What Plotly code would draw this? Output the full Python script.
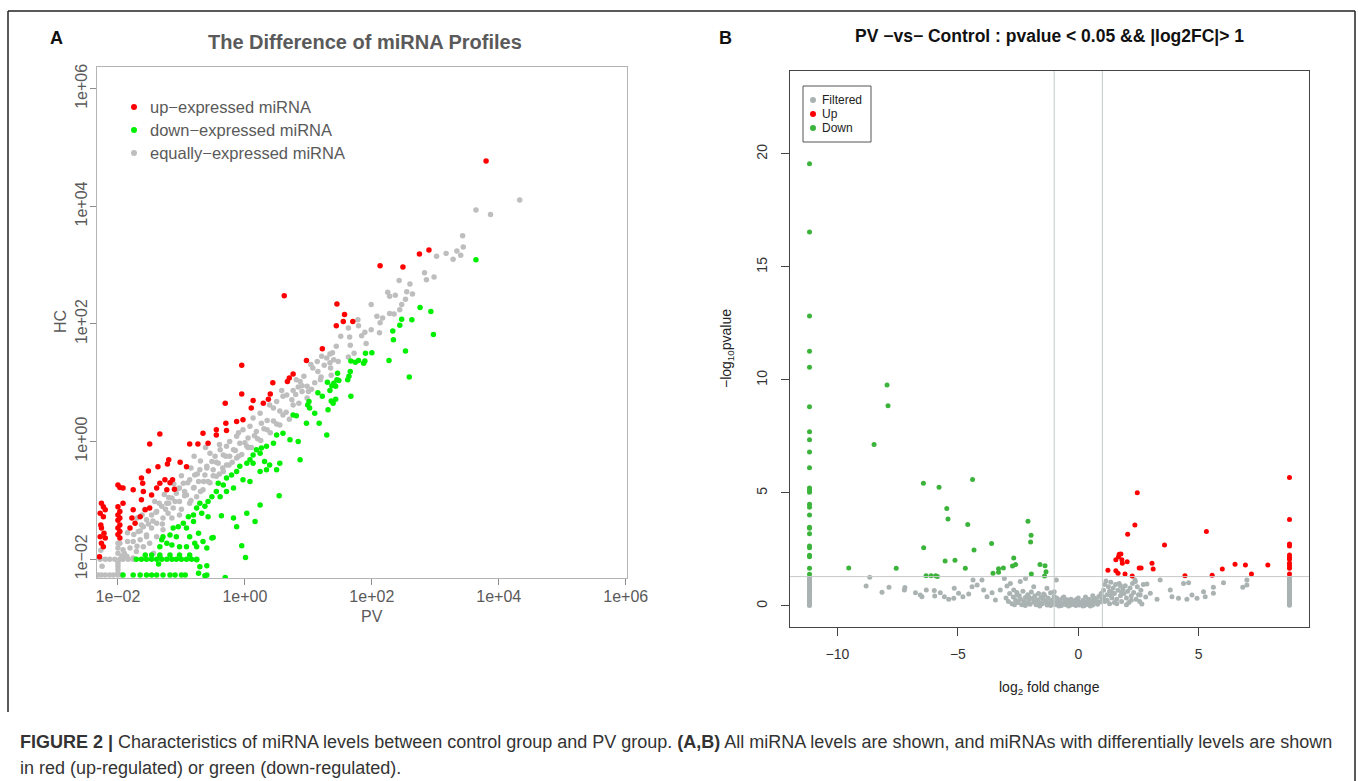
import numpy as np
import plotly.graph_objects as go

W, H = 1358, 781

# ---------------- Panel A data: (log10 PV, log10 HC) ----------------
up_points = [
    (3.80, 4.77), (0.62, 2.48), (2.90, 3.26), (2.75, 3.19), (2.13, 2.99), (2.49, 2.97),
    (1.45, 2.34), (1.57, 2.16), (1.44, 1.97), (1.55, 2.04), (1.70, 2.04), (1.22, 1.58),
    (0.97, 1.38), (0.76, 1.15), (0.70, 1.08), (0.67, 1.02), (0.44, 1.00), (-0.05, 1.30),
    (-0.05, 0.81), (0.40, 0.81), (0.37, 0.72), (0.29, 0.65), (0.13, 0.70), (0.10, 0.57),
    (-0.31, 0.65), (-1.34, 0.13), (-1.50, -0.04), (-0.66, 0.14), (-0.45, 0.20), (-0.29, 0.19),
    (-0.45, 0.11), (-0.30, 0.31), (-0.13, 0.34), (-0.03, 0.37), (-0.87, -0.04), (-0.74, -0.04),
    (-0.58, -0.03), (-1.02, -0.35), (-0.92, -0.43), (-1.20, -0.31), (-1.37, -0.43), (-1.52, -0.50),
    (-1.22, -0.38), (-1.14, -0.65), (-1.18, -0.70), (-1.26, -0.65), (-1.34, -0.71), (-1.39, -0.79),
    (-1.11, -0.81), (-1.23, -0.82), (-1.47, -0.91), (-1.63, -0.62), (-1.61, -0.71), (-1.60, -0.85),
    (-1.76, -0.82), (-1.92, -0.79), (-2.00, -0.74), (-1.97, -0.78), (-1.92, -1.05), (-1.76, -1.16),
    (-1.78, -1.30), (-1.73, -1.39), (-1.81, -1.47), (-1.65, -1.28), (-1.57, -1.16), (-1.50, -1.13),
    (-1.63, -0.99),
    (-2.00, -1.11), (-1.97, -1.19), (-2.00, -1.25), (-1.97, -1.30), (-2.00, -1.34), (-1.97, -1.42),
    (-2.00, -1.47), (-1.97, -1.53), (-2.00, -1.58), (-1.97, -1.64),
    (-2.26, -1.05), (-2.23, -1.11), (-2.20, -1.16), (-2.28, -1.22), (-2.23, -1.28), (-2.27, -1.42),
    (-2.26, -1.47), (-2.22, -1.56), (-2.28, -1.62), (-2.20, -1.64), (-2.26, -1.73), (-2.23, -1.79),
    (-2.29, -1.96),
]

down_points = [
    (3.64, 3.09), (2.76, 2.28), (2.93, 2.21), (2.63, 2.07), (2.47, 2.08), (2.44, 1.98),
    (2.33, 1.88), (2.97, 1.82), (2.34, 1.73), (2.53, 1.54), (2.00, 1.51), (1.90, 1.50),
    (2.27, 1.38), (2.59, 1.10), (1.89, 1.37), (1.87, 1.33), (1.79, 1.38), (1.74, 1.35),
    (1.67, 1.37), (1.66, 1.19), (1.64, 1.11), (1.62, 1.05), (1.67, 0.77), (1.46, 1.16),
    (1.45, 1.05), (1.48, 1.04), (1.40, 0.99), (1.37, 0.95), (1.43, 0.94), (1.30, 1.01),
    (1.34, 0.87), (1.43, 0.72), (1.36, 0.69), (1.39, 0.65), (1.22, 0.77), (1.15, 0.83),
    (1.01, 0.68), (0.99, 0.62), (1.02, 0.57),
    (0.76, 0.45), (0.81, 0.44), (0.97, 0.31), (1.17, 0.31), (1.10, 0.48), (1.31, 0.54),
    (1.29, 0.11), (0.87, -0.31), (0.84, 0.00), (0.71, 0.03), (0.60, 0.14), (0.50, 0.11),
    (0.45, -0.03), (0.34, -0.08), (0.26, -0.11), (0.18, -0.14), (0.13, -0.23), (0.24, -0.20),
    (0.08, -0.31), (0.03, -0.37), (0.13, -0.37), (0.31, -0.34), (0.39, -0.40), (0.55, -0.37),
    (0.50, -0.48), (0.24, -0.51), (0.34, -0.48), (-0.08, -0.42), (-0.13, -0.51), (-0.21, -0.57),
    (-0.03, -0.65), (0.08, -0.68), (-0.29, -0.62), (-0.34, -0.74), (-0.42, -0.71), (-0.18, -0.79),
    (-0.29, -0.85), (-0.45, -0.85), (-0.52, -0.94), (-0.39, -0.94), (-0.58, -1.02), (-0.71, -1.05),
    (-0.63, -1.10), (-0.76, -1.13), (-0.68, -1.22), (-0.58, -1.28), (-0.81, -1.25), (-0.89, -1.28),
    (-0.81, -1.36), (-0.97, -1.39), (-1.05, -1.45), (-1.13, -1.47), (-0.92, -1.47), (-1.18, -1.59),
    (-1.29, -1.62), (-1.08, -1.62), (-0.87, -1.62), (-0.73, -1.56), (-0.52, -1.64), (-0.50, -1.63),
    (-0.37, -1.26), (-0.18, -1.30), (-0.13, -1.45), (0.03, -1.22), (0.16, -1.36), (-0.05, -1.77),
    (0.01, -1.97), (0.24, -1.08), (0.54, -0.92), (-0.66, -1.70), (-0.60, -1.81), (-0.76, -1.79),
    (-0.79, -1.73), (-0.92, -1.79), (-1.03, -1.79), (-1.15, -1.76), (-1.23, -1.73), (-1.34, -1.79),
    (-1.31, -1.67),
    (-1.71, -2.0), (-1.63, -2.0), (-1.55, -2.0), (-1.47, -2.0), (-1.39, -2.0), (-1.31, -2.0),
    (-1.23, -2.0), (-1.15, -2.0), (-1.08, -2.0), (-1.00, -2.0), (-0.92, -2.0), (-0.84, -2.0),
    (-0.76, -2.0),
    (-1.57, -1.93), (-1.47, -1.93), (-1.34, -1.93), (-1.18, -1.93), (-1.03, -1.93), (-0.87, -1.93),
    (-1.36, -2.08), (-0.76, -2.01), (-0.71, -2.13), (-0.60, -2.11),
    (-1.92, -2.27), (-1.76, -2.27), (-1.65, -2.27), (-1.55, -2.27), (-1.47, -2.27), (-1.39, -2.27),
    (-1.29, -2.27), (-1.18, -2.27), (-1.10, -2.27), (-1.00, -2.27), (-0.94, -2.27), (-0.60, -2.27),
    (-0.31, -2.31), (-0.73, -2.24), (-0.63, -2.28),
]

equal_points = [
    (4.33, 4.11), (3.64, 3.94), (3.87, 3.86), (3.43, 3.50), (3.44, 3.31), (3.34, 3.24),
    (3.40, 3.17), (3.28, 3.10), (3.17, 3.20), (3.02, 3.15), (2.83, 2.87), (2.98, 2.80),
    (2.86, 2.75), (2.60, 2.68), (2.43, 2.74), (2.55, 2.55), (2.64, 2.51), (2.25, 2.54),
    (2.37, 2.49), (2.28, 2.47), (2.53, 2.42), (2.47, 2.33), (2.44, 2.24), (2.28, 2.18),
    (2.35, 2.17), (1.99, 2.33), (2.08, 2.13), (2.17, 2.10), (2.13, 2.02), (1.78, 2.07),
    (1.79, 1.97), (1.89, 1.86), (1.99, 1.90), (2.12, 1.85), (1.84, 1.80), (1.63, 1.93),
    (1.65, 1.78), (1.51, 1.79), (1.91, 1.67), (1.44, 1.62), (1.66, 1.64), (1.72, 1.50),
    (1.63, 1.44), (1.38, 1.51), (1.34, 1.49), (1.40, 1.39), (1.29, 1.42), (1.34, 1.34),
    (1.47, 1.36), (1.35, 1.25), (1.21, 1.45), (1.14, 1.36), (1.07, 1.25), (1.15, 1.19),
    (1.04, 1.31), (1.36, 1.13), (1.19, 1.05), (0.93, 1.11), (0.98, 0.94), (1.05, 0.89),
    (0.87, 1.02), (0.81, 1.05), (0.84, 0.93), (0.90, 0.85), (0.76, 0.87), (0.66, 0.79),
    (0.58, 0.87), (0.60, 0.77), (0.74, 0.71), (0.50, 0.68), (0.39, 0.62), (0.98, 0.74),
    (0.76, 0.62), (0.45, 0.57),
    (0.24, 0.48), (0.13, 0.40), (0.26, 0.31), (0.08, 0.26), (-0.03, 0.20), (0.18, 0.17),
    (-0.13, 0.09), (0.05, 0.06), (-0.24, 0.00), (-0.08, -0.03), (-0.29, -0.08), (-0.18, -0.14),
    (0.03, -0.08), (-0.39, -0.14), (-0.34, -0.23), (-0.47, -0.25), (-0.24, -0.25), (-0.13, -0.28),
    (-0.52, -0.34), (-0.42, -0.37), (-0.29, -0.40), (-0.60, -0.42), (-0.71, -0.48), (-0.50, -0.48),
    (-0.34, -0.51), (-0.79, -0.57), (-0.63, -0.57), (-0.45, -0.59), (-0.87, -0.65), (-0.73, -0.68),
    (-0.58, -0.68), (-0.97, -0.71), (-1.03, -0.79), (-0.81, -0.79), (-0.66, -0.82), (-1.08, -0.88),
    (-0.92, -0.91), (-0.76, -0.94), (-1.15, -0.96), (-1.03, -1.02), (-1.23, -1.05), (-0.87, -1.05),
    (-1.31, -1.10), (-1.13, -1.13), (-1.39, -1.19), (-1.21, -1.22), (-1.03, -1.25), (-1.47, -1.25),
    (-1.29, -1.30), (-1.55, -1.33), (-1.39, -1.39), (-1.63, -1.42), (-1.47, -1.47), (-1.29, -1.50),
    (-1.68, -1.53), (-1.55, -1.59), (-1.39, -1.62), (-1.65, -1.67), (-1.50, -1.73), (-1.76, -1.70),
    (-1.60, -1.79), (-1.81, -1.81), (-1.71, -1.87), (-1.44, -1.90), (-1.86, -1.95), (-1.76, -1.98),
    (-1.34, -1.95), (-1.92, -1.84), (-1.97, -1.73), (-1.94, -1.95),
    (-0.40, -0.05), (-0.55, -0.20), (-0.70, -0.33), (-0.85, -0.45), (-1.00, -0.58), (-1.12, -0.72),
    (-1.27, -0.90), (-1.42, -1.02), (-1.58, -1.15), (-1.70, -1.30), (-1.85, -1.55), (0.35, 0.36),
    (0.55, 0.52), (-0.10, 0.15), (-0.95, -0.85), (-1.20, -1.05), (-0.62, -0.10), (-0.80, -0.25),
    (-1.45, -1.35), (-1.40, -1.20), (-1.35, -1.05), (-1.30, -1.40), (-1.25, -1.15), (-1.20, -0.95),
    (-1.15, -1.30), (-1.10, -1.02), (-1.05, -0.80), (-1.00, -1.15), (-0.95, -0.92), (-0.90, -0.70),
    (-0.85, -1.00), (-0.80, -0.78), (-0.75, -0.55), (-0.70, -0.85), (-0.65, -0.68), (-0.60, -0.45),
    (-0.55, -0.70), (-0.50, -0.58), (-0.45, -0.35), (-0.40, -0.55), (-0.35, -0.45), (-0.30, -0.25),
    (-0.25, -0.40), (-0.20, -0.35), (-0.15, -0.15), (-0.10, -0.25), (-0.05, -0.22), (0.00, -0.02),
    (0.05, -0.10), (0.10, -0.10), (0.15, 0.10), (0.20, 0.05), (0.25, 0.02), (0.30, 0.22),
    (0.35, 0.20), (0.40, 0.15), (0.45, 0.35), (0.50, 0.30), (0.55, 0.28), (0.60, 0.45),
    (0.65, 0.50), (0.70, 0.38), (0.80, 0.80), (0.85, 0.65), (0.90, 0.95), (1.00, 0.85),
    (1.10, 1.00), (1.20, 1.10), (1.25, 1.30), (-1.60, -1.45), (-1.55, -1.62), (-1.75, -1.58),
    (-1.85, -1.70), (-1.90, -1.90), (-1.70, -1.78), (-1.65, -1.52), (-1.52, -1.40), (-1.62, -1.25),
    (-2.28, -2.0), (-2.20, -2.0), (-2.13, -2.0), (-2.05, -2.0), (-1.97, -2.0), (-1.92, -2.0),
    (-1.84, -2.0), (-1.76, -2.0),
    (-2.31, -2.27), (-2.26, -2.27), (-2.20, -2.27), (-2.13, -2.27), (-2.07, -2.27), (-2.00, -2.27),
    (-1.94, -2.27),
    (-2.00, -1.73), (-2.00, -1.81), (-2.00, -1.90), (-2.00, -2.07), (-2.00, -2.12), (-2.00, -2.18),
    (-2.00, -2.24), (-2.27, -1.85), (-2.25, -2.12),
]

a_tick_vals = [1e-2, 1e0, 1e2, 1e4, 1e6]
a_tick_text = ["1e\u221202", "1e+00", "1e+02", "1e+04", "1e+06"]
a_legend_labels = ["up\u2212expressed miRNA", "down\u2212expressed miRNA", "equally\u2212expressed miRNA"]

# ---------------- Panel B data: (log2 fold change, -log10 pvalue) ----------------
b_down_points = [(-11.16, v) for v in [19.57, 16.55, 12.83, 11.27, 10.56, 8.82, 7.71, 7.36, 6.81, 6.12,
                                        5.22, 5.13, 5.03, 4.50, 4.37, 4.03, 3.48, 3.44, 3.20, 2.65,
                                        2.58, 2.24, 2.18, 1.67, 1.40]] + [
    (-7.94, 9.78), (-7.90, 8.86), (-8.48, 7.14), (-9.53, 1.68), (-7.56, 1.67), (-6.43, 5.43),
    (-5.78, 5.25), (-4.39, 5.60), (-5.46, 4.31), (-5.41, 3.85), (-4.59, 3.61), (-6.42, 2.58),
    (-4.33, 2.48), (-3.60, 2.76), (-5.53, 1.99), (-5.12, 2.02), (-4.69, 1.67), (-6.32, 1.34),
    (-6.11, 1.34), (-5.92, 1.34), (-5.85, 1.30), (-3.54, 1.45), (-3.31, 1.49), (-3.31, 1.65),
    (-3.11, 1.68), (-2.68, 2.12), (-2.73, 1.77), (-2.60, 1.83), (-2.09, 3.75), (-1.96, 3.13),
    (-1.98, 2.83), (-1.59, 1.84), (-1.38, 1.78), (-1.34, 1.52), (-1.40, 1.33), (-1.95, 1.42),
]

b_up_points = [(8.77, v) for v in [5.69, 3.83, 2.74, 2.65, 2.26, 2.15, 2.07, 1.89, 1.78, 1.67, 1.42]] + [
    (2.45, 5.01), (2.35, 3.58), (2.05, 3.17), (5.32, 3.29), (3.58, 2.70), (1.70, 2.29),
    (1.77, 2.30), (1.67, 2.18), (1.81, 2.04), (1.56, 2.04), (1.83, 1.89), (2.03, 1.96),
    (1.23, 1.58), (1.56, 1.56), (1.65, 1.45), (1.94, 1.42), (2.24, 1.33), (2.53, 1.68),
    (2.61, 1.68), (3.06, 1.89), (3.11, 1.64), (4.43, 1.34), (5.56, 1.36), (5.98, 1.64),
    (6.51, 1.85), (6.94, 1.81), (7.19, 1.42), (7.87, 1.81),
]

b_filtered_points = (
    [(-11.16, v) for v in [0.02, 0.07, 0.13, 0.20, 0.26, 0.33, 0.40, 0.46, 0.53, 0.60,
                           0.67, 0.74, 0.80, 0.87, 0.94, 1.00, 1.07, 1.14, 1.20, 1.26]]
    + [(8.77, v) for v in [0.03, 0.09, 0.15, 0.22, 0.29, 0.36, 0.43, 0.50, 0.57, 0.64,
                           0.71, 0.78, 0.85, 0.92, 0.99, 1.06, 1.13, 1.20, 1.27]]
    + [
    (-8.66, 1.27), (-8.81, 0.88), (-8.15, 0.61), (-7.86, 0.83), (-7.22, 0.71), (-7.20, 0.82),
    (-6.76, 0.59), (-6.56, 0.49), (-6.31, 0.71), (-6.49, 0.41), (-5.98, 0.68), (-5.96, 0.44),
    (-5.73, 0.59), (-5.56, 0.41), (-5.38, 0.30), (-5.17, 0.34), (-5.15, 0.78), (-4.97, 0.56),
    (-4.79, 0.41), (-4.55, 0.53), (-4.37, 1.15), (-4.41, 0.85), (-4.20, 0.93), (-4.00, 1.15),
    (-3.93, 0.71), (-3.79, 0.41), (-3.58, 0.59), (-3.44, 0.27), (-3.24, 0.71), (-3.07, 1.22),
    (-2.96, 0.88), (-2.82, 1.00), (-2.68, 0.71), (-2.54, 0.49), (-2.41, 1.08), (-2.19, 1.22),
    (-2.06, 0.41), (-1.85, 0.85), (-1.71, 0.27), (-1.44, 0.53), (-1.30, 0.78), (-1.00, 0.63),
    (-0.91, 1.15),
    (-3.00, 0.35), (-2.90, 0.20), (-2.85, 0.55), (-2.75, 0.10), (-2.70, 0.40), (-2.60, 0.25),
    (-2.55, 0.60), (-2.50, 0.15), (-2.45, 0.45), (-2.40, 0.30), (-2.35, 0.05), (-2.30, 0.65),
    (-2.25, 0.20), (-2.20, 0.38), (-2.15, 0.12), (-2.10, 0.50), (-2.05, 0.28), (-2.00, 0.08),
    (-1.95, 0.62), (-1.90, 0.33), (-1.85, 0.18), (-1.80, 0.45), (-1.75, 0.05), (-1.70, 0.25),
    (-1.65, 0.55), (-1.60, 0.15), (-1.55, 0.38), (-1.50, 0.10), (-1.45, 0.30), (-1.40, 0.48),
    (-1.35, 0.20), (-1.30, 0.04), (-1.25, 0.35), (-1.20, 0.15), (-1.15, 0.58), (-1.10, 0.25),
    (-1.05, 0.08), (-1.00, 0.42),
    (-0.95, 0.18), (-0.90, 0.05), (-0.85, 0.30), (-0.80, 0.12), (-0.75, 0.22), (-0.70, 0.02),
    (-0.65, 0.35), (-0.60, 0.10), (-0.55, 0.20), (-0.50, 0.05), (-0.45, 0.28), (-0.40, 0.15),
    (-0.35, 0.03), (-0.30, 0.12), (-0.25, 0.22), (-0.20, 0.06), (-0.15, 0.16), (-0.10, 0.02),
    (-0.05, 0.10), (0.00, 0.20), (0.05, 0.04), (0.10, 0.14), (0.15, 0.08), (0.20, 0.25),
    (0.25, 0.02), (0.30, 0.12), (0.35, 0.18), (0.40, 0.06), (0.45, 0.30), (0.50, 0.10),
    (0.55, 0.20), (0.60, 0.04), (0.65, 0.35), (0.70, 0.15), (0.75, 0.25), (0.80, 0.08),
    (0.85, 0.42), (0.90, 0.18), (0.95, 0.55), (1.00, 0.30),
    (-0.90, 0.35), (-0.60, 0.40), (-0.30, 0.30), (0.00, 0.35), (0.30, 0.40), (0.60, 0.45),
    (-0.80, 0.00), (-0.40, 0.00), (0.20, 0.00), (0.50, 0.00), (-0.10, 0.28), (0.40, 0.22),
    (-0.55, 0.12), (0.70, 0.30), (-2.65, 0.05), (-2.20, 0.02), (-1.60, 0.00), (-1.15, 0.02),
    (1.05, 0.70), (1.10, 0.95), (1.10, 0.20), (1.15, 1.10), (1.20, 0.50), (1.25, 0.85),
    (1.30, 0.10), (1.30, 0.65), (1.35, 1.05), (1.40, 0.35), (1.45, 0.80), (1.50, 0.15),
    (1.50, 0.55), (1.55, 0.95), (1.60, 0.30), (1.65, 0.70), (1.70, 1.00), (1.75, 0.45),
    (1.80, 0.20), (1.85, 0.75), (1.90, 0.55), (1.95, 0.90), (2.00, 0.35), (2.05, 0.65),
    (2.10, 0.15), (2.15, 0.80), (2.20, 0.45), (2.25, 1.00), (2.30, 0.60), (2.40, 0.30),
    (2.45, 0.85), (2.50, 0.50), (2.55, 0.20), (2.60, 0.70), (2.70, 0.95), (2.80, 0.40),
    (1.20, 0.25), (1.40, 0.60), (1.60, 0.10), (1.80, 0.60), (2.00, 0.05), (2.20, 0.25),
    (1.05, 0.40), (1.35, 0.45), (1.75, 0.90), (2.35, 1.15),
    (3.40, 1.15), (3.27, 0.30), (3.82, 0.71), (3.89, 0.41), (4.16, 0.34), (4.37, 1.00),
    (4.58, 1.03), (4.51, 0.30), (4.72, 0.49), (4.93, 0.34), (5.20, 0.63), (5.27, 0.41),
    (5.61, 0.83), (5.61, 0.56), (6.03, 1.03), (7.00, 1.15), (7.00, 0.93), (6.83, 0.83),
    (2.64, 0.09), (2.99, 0.56), (2.85, 0.97), (2.37, 1.08), (2.57, 0.49),
])

b_tick_x = [-10, -5, 0, 5]
b_tick_x_text = ["\u221210", "\u22125", "0", "5"]
b_tick_y = [0, 5, 10, 15, 20]
b_legend_labels = ["Filtered", "Up", "Down"]
fc_cut = 1.0
p_cut = -np.log10(0.05)

# ---------------- colours / geometry ----------------
A_GRAY, A_RED, A_GREEN = "#bebebe", "#ff0000", "#00f000"
B_GRAY, B_RED, B_GREEN = "#aab2b2", "#ff0000", "#3cb43c"

def px(x):
    return x / W

def py(y):
    return 1 - y / H

A_box = (97, 67, 627, 578)     # left, top, right, bottom (pixels)
B_box = (790, 71, 1309, 627)

fig = go.Figure()

def add_a(points, color):
    xs = [10 ** p[0] for p in points]
    ys = [10 ** p[1] for p in points]
    fig.add_trace(go.Scatter(x=xs, y=ys, mode="markers", xaxis="x", yaxis="y",
                             marker=dict(size=5.5, color=color, line=dict(width=0)),
                             showlegend=False, hoverinfo="skip"))

def add_b(points, color):
    fig.add_trace(go.Scatter(x=[p[0] for p in points], y=[p[1] for p in points], mode="markers",
                             xaxis="x2", yaxis="y2",
                             marker=dict(size=5, color=color, line=dict(width=0)),
                             showlegend=False, hoverinfo="skip"))

add_a(equal_points, A_GRAY)
add_a(down_points, A_GREEN)
add_a(up_points, A_RED)

add_b(b_filtered_points, B_GRAY)
add_b(b_up_points, B_RED)
add_b(b_down_points, B_GREEN)

FONT = "Liberation Sans, Arial, Helvetica, sans-serif"

axA = dict(showgrid=False, zeroline=False, showline=True, mirror=True, linecolor="#b4b4b4",
           linewidth=1, ticks="outside", ticklen=6, tickcolor="#8c8c8c", tickwidth=1,
           tickfont=dict(family=FONT, size=16, color="#5a5a5a"), automargin=False)
axB = dict(showgrid=False, zeroline=False, showline=True, mirror=True, linecolor="#444444",
           linewidth=1.2, ticks="outside", ticklen=8, tickcolor="#444444", tickwidth=1,
           tickfont=dict(family=FONT, size=14, color="#333333"), automargin=False)

fig.update_layout(
    width=W, height=H, autosize=False,
    margin=dict(l=0, r=0, t=0, b=0, pad=0, autoexpand=False),
    paper_bgcolor="white", plot_bgcolor="white", showlegend=False,
    xaxis=dict(axA, type="log", range=[-2.33, 6.02], domain=[px(A_box[0]), px(A_box[2])],
               anchor="y", tickvals=a_tick_vals, ticktext=a_tick_text, ticklabelstandoff=-2),
    yaxis=dict(axA, type="log", range=[-2.32, 6.37], domain=[py(A_box[3]), py(A_box[1])],
               anchor="x", tickvals=a_tick_vals, ticktext=a_tick_text, tickangle=-90,
               ticklabelstandoff=-3),
    xaxis2=dict(axB, range=[-11.97, 9.58], domain=[px(B_box[0]), px(B_box[2])], anchor="y2",
                tickvals=b_tick_x, ticktext=b_tick_x_text, ticklabelstandoff=6),
    yaxis2=dict(axB, range=[-0.93, 23.67], domain=[py(B_box[3]), py(B_box[1])], anchor="x2",
                tickvals=b_tick_y, tickangle=-90, ticklabelstandoff=8),
)

shapes = []
# threshold lines in B
for xv in (-fc_cut, fc_cut):
    shapes.append(dict(type="line", xref="x2", yref="y2 domain", x0=xv, x1=xv, y0=0, y1=1,
                       line=dict(color="#c6caca", width=1)))
shapes.append(dict(type="line", xref="x2 domain", yref="y2", x0=0, x1=1, y0=p_cut, y1=p_cut,
                   line=dict(color="#c6caca", width=1)))

# outer frame
frame_col = "#222222"
shapes.append(dict(type="line", xref="paper", yref="paper", x0=px(8), x1=px(1355), y0=py(11), y1=py(11),
                   line=dict(color=frame_col, width=1.5)))
shapes.append(dict(type="line", xref="paper", yref="paper", x0=px(8), x1=px(8), y0=py(11), y1=py(712),
                   line=dict(color=frame_col, width=1.5)))
shapes.append(dict(type="line", xref="paper", yref="paper", x0=px(1355), x1=px(1355), y0=py(11), y1=py(781),
                   line=dict(color=frame_col, width=1.5)))

# B legend box
shapes.append(dict(type="rect", xref="paper", yref="paper", x0=px(803), x1=px(871), y0=py(86), y1=py(142),
                   line=dict(color="#555555", width=1), fillcolor="white"))

annotations = []

def dot(xp, yp, color, r):
    shapes.append(dict(type="circle", xref="paper", yref="paper", xsizemode="pixel", ysizemode="pixel",
                       xanchor=px(xp), yanchor=py(yp), x0=-r, x1=r, y0=-r, y1=r,
                       fillcolor=color, line=dict(width=0)))

def text(xp, yp, s, size, color="#222222", xanchor="center", angle=0, family=FONT):
    annotations.append(dict(xref="paper", yref="paper", x=px(xp), y=py(yp), text=s, showarrow=False,
                            xanchor=xanchor, yanchor="middle", textangle=angle,
                            font=dict(family=family, size=size, color=color)))

# A legend
for i, (lab, col) in enumerate(zip(a_legend_labels, [A_RED, A_GREEN, A_GRAY])):
    yy = 107 + 23 * i
    dot(134, yy, col, 3)
    text(148, yy, lab, 16.5, "#5a5a5a", xanchor="left")

# B legend
for i, (lab, col) in enumerate(zip(b_legend_labels, [B_GRAY, B_RED, B_GREEN])):
    yy = 100 + 14 * i
    dot(813, yy, col, 3)
    text(820, yy, lab, 12, "#222222", xanchor="left")

# titles and labels
text(56, 38, "<b>A</b>", 18, "#111111")
text(725, 38, "<b>B</b>", 18, "#111111")
text(365, 42, "<b>The Difference of miRNA Profiles</b>", 20, "#5a5a5a")
text(1049, 36, "<b>PV \u2212vs\u2212 Control : pvalue &lt; 0.05 &amp;&amp; |log2FC|&gt; 1</b>", 17.5, "#111111")
text(372, 616, "PV", 16, "#5a5a5a")
text(60, 322, "HC", 16, "#5a5a5a", angle=-90)
text(1049, 688, "log<sub>2</sub> fold change", 14, "#222222")
text(727, 349, "\u2212log<sub>10</sub>pvalue", 14, "#222222", angle=-90)

# caption
text(18, 742, "<b>FIGURE 2 |</b> Characteristics of miRNA levels between control group and PV group. "
              "<b>(A,B)</b> All miRNA levels are shown, and miRNAs with differentially levels are shown",
     18, "#333333", xanchor="left")
text(18, 768, "in red (up-regulated) or green (down-regulated).", 18, "#333333", xanchor="left")

fig.update_layout(shapes=shapes, annotations=annotations)
fig.write_html("out.html", config={"displayModeBar": False, "responsive": False},
               post_script="document.body.style.margin='0px';document.body.style.overflow='hidden';")
